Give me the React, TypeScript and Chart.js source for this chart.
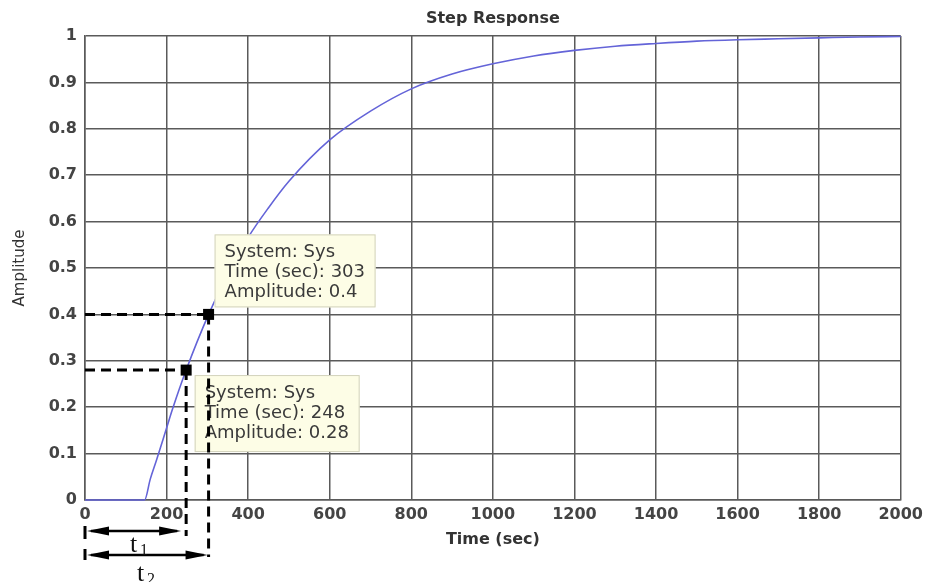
import React, { useEffect, useRef } from 'react';
import { Chart, registerables } from 'chart.js';

Chart.register(...registerables);

// Step response samples (time in sec, amplitude)
const times = [0, 146, 160, 175, 200, 215, 248, 303, 350, 400, 450, 500, 600, 700, 800, 900, 1000, 1100, 1200, 1300, 1400, 1500, 1600, 1700, 1800, 1900, 2000];
const amps = [0, 0, 0.045, 0.085, 0.155, 0.197, 0.28, 0.4, 0.487, 0.566, 0.63, 0.687, 0.776, 0.838, 0.886, 0.918, 0.94, 0.957, 0.969, 0.978, 0.984, 0.989, 0.992, 0.994, 0.996, 0.998, 0.999];

// Data tips
const tipTimes = [303, 248];
const tipAmps = [0.4, 0.28];
const tipSystem = 'Sys';

// Axes
const xMin = 0;
const xMax = 2000;
const xStep = 200;
const yMin = 0;
const yMax = 1;
const yStep = 0.1;

const titleText = 'Step Response';
const xTitle = 'Time (sec)';
const yTitle = 'Amplitude';
const intervalLabels = ['t', 't'];
const intervalSubs = ['1', '2'];

const GRID = '#5a5a5a';
const TEXT = '#3a3a3a';

function stretchText(ctx: CanvasRenderingContext2D, text: string, x: number, y: number, sx: number) {
  ctx.save();
  ctx.translate(x, y);
  ctx.scale(sx, 1);
  ctx.fillText(text, 0, 0);
  ctx.restore();
}

function dashedLine(ctx: CanvasRenderingContext2D, x1: number, y1: number, x2: number, y2: number) {
  ctx.save();
  ctx.strokeStyle = '#000';
  ctx.lineWidth = 3;
  ctx.setLineDash([10, 6]);
  ctx.beginPath();
  ctx.moveTo(x1, y1);
  ctx.lineTo(x2, y2);
  ctx.stroke();
  ctx.restore();
}

function doubleArrow(ctx: CanvasRenderingContext2D, x1: number, x2: number, y: number) {
  const L = 22;
  const h = 4.5;
  ctx.save();
  ctx.strokeStyle = '#000';
  ctx.fillStyle = '#000';
  ctx.lineWidth = 2.5;
  ctx.beginPath();
  ctx.moveTo(x1 + 4, y);
  ctx.lineTo(x2 - 4, y);
  ctx.stroke();
  ctx.beginPath();
  ctx.moveTo(x1, y);
  ctx.lineTo(x1 + L, y - h);
  ctx.lineTo(x1 + L, y + h);
  ctx.closePath();
  ctx.fill();
  ctx.beginPath();
  ctx.moveTo(x2, y);
  ctx.lineTo(x2 - L, y - h);
  ctx.lineTo(x2 - L, y + h);
  ctx.closePath();
  ctx.fill();
  ctx.restore();
}

const annotationPlugin = {
  id: 'stepAnnotations',
  afterDatasetsDraw(chart: any) {
    const ctx: CanvasRenderingContext2D = chart.ctx;
    const xs = chart.scales.x;
    const ys = chart.scales.y;
    const x0 = xs.getPixelForValue(xMin);
    const pts = tipTimes.map((t, i) => ({ x: xs.getPixelForValue(t), y: ys.getPixelForValue(tipAmps[i]) }));

    // data tip boxes
    const boxes = [
      { left: pts[0].x + 6, top: pts[0].y - 80, w: 161, h: 73 },
      { left: pts[1].x + 8.5, top: pts[1].y + 5, w: 165, h: 77 },
    ];
    ctx.save();
    boxes.forEach((b, i) => {
      ctx.fillStyle = '#fdfde6';
      ctx.fillRect(b.left, b.top, b.w, b.h);
      ctx.strokeStyle = '#d2d2bc';
      ctx.lineWidth = 1;
      ctx.strokeRect(b.left + 0.5, b.top + 0.5, b.w - 1, b.h - 1);
      ctx.fillStyle = TEXT;
      ctx.font = '17px "DejaVu Sans"';
      ctx.textBaseline = 'middle';
      ctx.textAlign = 'left';
      const lines = [`System: ${tipSystem}`, `Time (sec): ${tipTimes[i]}`, `Amplitude: ${tipAmps[i]}`];
      lines.forEach((ln, k) => stretchText(ctx, ln, b.left + 10, b.top + 18 + k * 20, 1.06));
    });
    ctx.restore();

    // dashed guide lines
    dashedLine(ctx, x0, pts[0].y, pts[0].x, pts[0].y);
    dashedLine(ctx, pts[0].x, pts[0].y, pts[0].x, 557);
    dashedLine(ctx, x0, pts[1].y, pts[1].x, pts[1].y);
    dashedLine(ctx, pts[1].x, pts[1].y, pts[1].x, 536);

    // markers
    ctx.save();
    ctx.fillStyle = '#000';
    pts.forEach((p) => ctx.fillRect(p.x - 5.5, p.y - 5.5, 11, 11));
    ctx.restore();

    // left reference bar
    ctx.save();
    ctx.strokeStyle = '#000';
    ctx.lineWidth = 3;
    ctx.beginPath();
    ctx.moveTo(x0, 526);
    ctx.lineTo(x0, 539);
    ctx.moveTo(x0, 549);
    ctx.lineTo(x0, 560);
    ctx.stroke();
    ctx.restore();

    // interval arrows t1, t2
    doubleArrow(ctx, x0 + 2, pts[1].x - 5, 531);
    doubleArrow(ctx, x0 + 2, pts[0].x - 1, 555);

    ctx.save();
    ctx.fillStyle = '#111';
    ctx.textBaseline = 'alphabetic';
    ctx.textAlign = 'left';
    ctx.font = '26px "Liberation Serif"';
    ctx.fillText(intervalLabels[0], 130, 552);
    ctx.fillText(intervalLabels[1], 137, 581);
    ctx.font = '16px "Liberation Serif"';
    ctx.fillText(intervalSubs[0], 140, 555);
    ctx.fillText(intervalSubs[1], 147, 584);
    ctx.restore();
  },
};

export default function App() {
  const canvasRef = useRef<HTMLCanvasElement | null>(null);

  useEffect(() => {
    if (!canvasRef.current) return;
    const data = times.map((t, i) => ({ x: t, y: amps[i] }));
    const chart = new Chart(canvasRef.current, {
      type: 'line',
      data: {
        datasets: [
          {
            data,
            borderColor: '#6464d8',
            borderWidth: 1.6,
            pointRadius: 0,
            fill: false,
            clip: 4,
            cubicInterpolationMode: 'monotone',
          },
        ],
      },
      options: {
        responsive: false,
        animation: false,
        devicePixelRatio: 1,
        layout: { padding: { left: 0, right: 24, top: 0, bottom: 0 } },
        plugins: {
          legend: { display: false },
          tooltip: { enabled: false },
          title: {
            display: true,
            text: titleText,
            fullSize: false,
            color: '#333',
            font: { family: 'DejaVu Sans', size: 16, weight: 'bold' },
            padding: { top: 9, bottom: 7.8 },
          },
        },
        scales: {
          x: {
            type: 'linear',
            min: xMin,
            max: xMax,
            ticks: {
              stepSize: xStep,
              color: '#444',
              font: { family: 'DejaVu Sans', size: 16, weight: 'bold' },
              padding: 5,
              maxRotation: 0,
              autoSkip: false,
              callback: (v: number) => String(Math.round(v)),
            },
            grid: { color: GRID, lineWidth: 1.5, drawTicks: false },
            border: { color: GRID, width: 1.5 },
            title: {
              display: true,
              text: xTitle,
              color: '#333',
              font: { family: 'DejaVu Sans', size: 16, weight: 'bold' },
              padding: { top: 0, bottom: 32.4 },
            },
            afterFit(scale: any) {
              scale.height = 82;
            },
          },
          y: {
            type: 'linear',
            min: yMin,
            max: yMax,
            ticks: {
              stepSize: yStep,
              color: '#444',
              font: { family: 'DejaVu Sans', size: 16, weight: 'bold' },
              padding: 8,
              autoSkip: false,
              callback: (v: number) => String(Math.round(v * 10) / 10),
            },
            grid: { color: GRID, lineWidth: 1.5, drawTicks: false },
            border: { color: GRID, width: 1.5 },
            title: {
              display: true,
              text: yTitle,
              color: '#333',
              font: { family: 'DejaVu Sans', size: 15 },
              padding: { top: 11, bottom: 0 },
            },
            afterFit(scale: any) {
              scale.width = 85;
            },
          },
        },
      } as any,
      plugins: [annotationPlugin],
    });
    return () => chart.destroy();
  }, []);

  return (
    <div style={{ position: 'absolute', left: 0, top: 0, width: 928, height: 582, background: '#fff' }}>
      <canvas ref={canvasRef} width={928} height={582} />
    </div>
  );
}
